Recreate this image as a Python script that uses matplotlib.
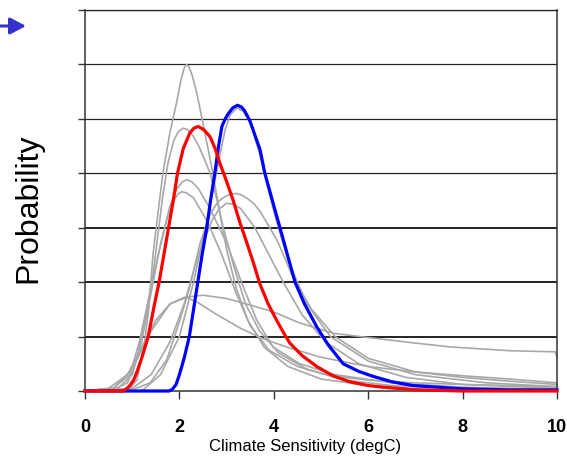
import matplotlib
matplotlib.use("Agg")
import matplotlib.pyplot as plt

# curves: (climate sensitivity, probability in grid units)
red_x = [0, 0.8, 0.88, 0.95, 1.03, 1.1, 1.2, 1.27, 1.34, 1.45, 1.57, 1.67, 1.77, 1.87,
         1.96, 2.08, 2.22, 2.31, 2.4, 2.52, 2.65, 2.76, 2.86, 3.0, 3.14, 3.28, 3.43,
         3.57, 3.7, 3.88, 4.06, 4.2, 4.34, 4.6, 4.91, 5.25, 5.61, 6.0, 6.32, 7.03, 8, 10]
red_y = [0, 0, 0.04, 0.1, 0.2, 0.35, 0.6, 0.8, 1.0, 1.5, 2.0, 2.5, 3.0, 3.5,
         4.0, 4.45, 4.74, 4.83, 4.86, 4.8, 4.67, 4.45, 4.18, 3.85, 3.5, 3.1, 2.72,
         2.35, 1.98, 1.6, 1.3, 1.08, 0.88, 0.65, 0.45, 0.28, 0.17, 0.1, 0.07, 0.02, 0, 0]

blue_x = [0, 1.78, 1.85, 1.93, 2.0, 2.1, 2.21, 2.3, 2.39, 2.48, 2.58, 2.66, 2.75, 2.83,
          2.9, 2.97, 3.04, 3.13, 3.23, 3.31, 3.38, 3.5, 3.6, 3.71, 3.81, 3.97, 4.13,
          4.29, 4.45, 4.65, 4.91, 5.15, 5.47, 5.8, 6.1, 6.5, 6.95, 8.0, 9.0, 10]
blue_y = [0, 0, 0.03, 0.12, 0.3, 0.6, 1.0, 1.5, 2.0, 2.5, 3.0, 3.5, 4.0, 4.5,
          4.86, 5.0, 5.1, 5.2, 5.25, 5.22, 5.15, 4.95, 4.7, 4.43, 4.0, 3.5, 3.0,
          2.5, 2.0, 1.6, 1.18, 0.85, 0.5, 0.36, 0.27, 0.17, 0.1, 0.04, 0.02, 0.02]

gray = [
    ([0, 0.9, 1.1, 1.25, 1.35, 1.44, 1.55, 1.65, 1.8, 1.94, 2.03, 2.1, 2.15, 2.2, 2.27,
      2.37, 2.54, 2.71, 2.85, 3.0, 3.2, 3.45, 3.8, 4.3, 5.0, 6, 7, 8, 10],
     [0, 0, 0.2, 0.8, 1.5, 2.5, 3.3, 4.0, 4.75, 5.3, 5.7, 5.93, 6.0, 5.96, 5.8,
      5.47, 4.74, 4.0, 3.3, 2.6, 1.9, 1.3, 0.8, 0.45, 0.22, 0.1, 0.04, 0.01, 0]),
    ([0, 0.6, 0.9, 1.1, 1.25, 1.45, 1.65, 1.76, 1.88, 1.98, 2.08, 2.18, 2.28, 2.4, 2.52,
      2.65, 2.8, 2.93, 3.15, 3.4, 3.7, 4.1, 4.7, 5.5, 6.5, 8, 10],
     [0, 0.02, 0.15, 0.6, 1.2, 2.2, 3.6, 4.2, 4.6, 4.77, 4.83, 4.8, 4.7, 4.52, 4.28,
      4.0, 3.5, 3.0, 2.3, 1.6, 1.1, 0.7, 0.4, 0.2, 0.1, 0.05, 0.02]),
    ([0, 0.7, 1.0, 1.2, 1.4, 1.6, 1.8, 1.95, 2.07, 2.17, 2.27, 2.4, 2.65, 3.0, 3.35,
      3.64, 3.98, 4.55, 5.3, 6.5, 8, 10],
     [0, 0.05, 0.3, 0.9, 1.8, 2.7, 3.4, 3.72, 3.85, 3.88, 3.84, 3.72, 3.35, 2.72, 1.92,
      1.3, 0.81, 0.5, 0.3, 0.15, 0.07, 0.03]),
    ([0, 0.6, 0.95, 1.15, 1.35, 1.55, 1.75, 1.88, 1.97, 2.05, 2.15, 2.3, 2.6, 2.9, 3.2,
      3.5, 3.9, 4.5, 5.2, 6, 7, 8, 9, 10],
     [0, 0.05, 0.3, 0.9, 1.7, 2.5, 3.2, 3.5, 3.62, 3.66, 3.64, 3.55, 3.1, 2.5, 1.8,
      1.2, 0.75, 0.45, 0.28, 0.2, 0.15, 0.12, 0.1, 0.08]),
    ([0, 1.0, 1.38, 1.73, 2.01, 2.22, 2.44, 2.65, 2.82, 2.98, 3.1, 3.2, 3.32, 3.45,
      3.58, 3.71, 4.07, 4.4, 4.8, 5.3, 6, 7, 8, 9, 10],
     [0, 0.02, 0.15, 0.57, 1.3, 1.91, 2.72, 3.25, 3.48, 3.58, 3.62, 3.63, 3.6, 3.53,
      3.44, 3.3, 2.77, 2.1, 1.5, 1.0, 0.6, 0.35, 0.25, 0.18, 0.12]),
    ([0, 1.2, 1.6, 2.0, 2.3, 2.6, 2.85, 2.97, 3.08, 3.22, 3.35, 3.47, 3.58, 3.7, 4.0,
      4.3, 4.7, 5.2, 6.0, 7, 8.5, 10],
     [0, 0, 0.3, 1.0, 2.0, 3.2, 4.3, 4.8, 5.08, 5.2, 5.14, 4.98, 4.72, 4.35, 3.3,
      2.4, 1.6, 1.0, 0.55, 0.3, 0.15, 0.08]),
    ([0, 1.0, 1.4, 1.8, 2.1, 2.4, 2.7, 2.85, 3.0, 3.15, 3.3, 3.6, 3.9, 4.2, 4.6, 5.1,
      5.8, 6.8, 8, 10],
     [0, 0.05, 0.3, 0.9, 1.6, 2.5, 3.15, 3.35, 3.45, 3.43, 3.35, 3.0, 2.5, 2.0, 1.4, 0.9,
      0.5, 0.25, 0.12, 0.05]),
    ([0, 0.5, 0.9, 1.2, 1.5, 1.8, 2.1, 2.5, 3.0, 3.5, 4.0, 4.55, 5.26, 5.83, 6.8, 7.73,
      9, 9.96, 10],
     [0, 0.05, 0.3, 0.8, 1.3, 1.6, 1.72, 1.76, 1.7, 1.58, 1.45, 1.25, 1.06, 1.0, 0.9,
      0.81, 0.74, 0.72, 0.62]),
    ([0, 0.6, 1.0, 1.4, 1.8, 2.15, 2.4, 2.8, 3.3, 3.8, 4.3, 5.0, 6.0, 7, 8, 9, 10],
     [0, 0.05, 0.4, 1.1, 1.6, 1.72, 1.62, 1.4, 1.15, 0.95, 0.8, 0.62, 0.45, 0.35, 0.28,
      0.22, 0.15]),
]

xticks = [0, 2, 4, 6, 8, 10]
grid_levels = [1, 2, 3, 4, 5, 6, 7]

fig = plt.figure(figsize=(5.67, 4.59), dpi=100)
ax = fig.add_axes([85/567, 1 - 391/459, 472/567, 381/459])

for lv in grid_levels:
    lw = 1.4 if lv <= 3 else 0.9
    ax.axhline(lv, color='#222222', lw=lw, zorder=1)

for gx, gy in gray:
    ax.plot(gx, gy, color='#a8a8a8', lw=1.2, zorder=2, clip_on=False)
ax.plot(blue_x, blue_y, color='#0000ff', lw=2.3, zorder=3, clip_on=False)
ax.plot(red_x, red_y, color='#ff0000', lw=2.3, zorder=4, clip_on=False)

ax.set_xlim(0, 10)
ax.set_ylim(0, 7)
ax.set_xticks(xticks)
ax.set_xticklabels([str(t) for t in xticks], fontfamily='Liberation Sans',
                   fontweight='bold', fontsize=13)
ax.set_yticks(grid_levels + [0])
ax.set_yticklabels([])
ax.tick_params(axis='x', direction='out', length=6, width=1, color='#333333', pad=14)
ax.tick_params(axis='y', direction='out', length=5, width=1, color='#333333')
for s in ['left', 'right', 'bottom']:
    ax.spines[s].set_color('#333333')
    ax.spines[s].set_linewidth(1.1)
ax.spines['top'].set_color('#222222')
ax.spines['top'].set_linewidth(0.9)

ax.set_xlabel('Climate Sensitivity (degC)', fontfamily='Liberation Sans', fontsize=12)
ax.xaxis.set_label_coords((305 - 85) / 472, -48 / 381)
fig.text(28/567, 1 - 208/459, 'Probability', rotation=90, ha='center', va='center',
         fontfamily='Liberation Sans', fontsize=23)

# the blue arrow in the corner
ax.annotate('', xy=(26/567, 1 - 26/459), xytext=(0, 1 - 26/459),
            xycoords='figure fraction', textcoords='figure fraction',
            arrowprops=dict(arrowstyle='-|>,head_length=0.95,head_width=0.5',
                            color='#3333cc', lw=2.2, shrinkA=0, shrinkB=0))

fig.savefig('out.png', dpi=100)
